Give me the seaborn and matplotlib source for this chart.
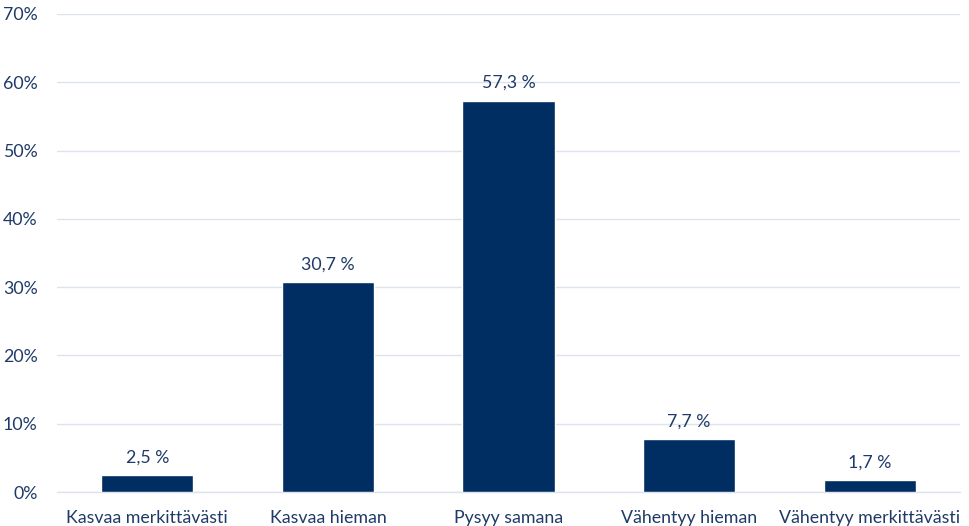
import matplotlib
matplotlib.use('Agg')
import matplotlib.pyplot as plt
import seaborn as sns
import pandas as pd
from matplotlib.ticker import FuncFormatter

# vastausvaihtoehdot ja osuudet (%)
categories = ['Kasvaa merkittävästi', 'Kasvaa hieman', 'Pysyy samana',
              'Vähentyy hieman', 'Vähentyy merkittävästi']
values = [2.5, 30.7, 57.3, 7.7, 1.7]
yticks = [0, 10, 20, 30, 40, 50, 60, 70]

bar_color = '#002D62'
text_color = '#1F3A68'
grid_color = '#DCE3EC'

sns.set_theme(style='white')
plt.rcParams['font.family'] = ['Lato', 'DejaVu Sans']

df = pd.DataFrame({'vaihtoehto': categories, 'osuus': values})

fig = plt.figure(figsize=(9.7, 5.26), dpi=100)
ax = fig.add_axes([0.0588, 0.0646, 0.9309, 0.9088])

sns.barplot(data=df, x='vaihtoehto', y='osuus', color=bar_color,
            saturation=1, width=0.51, ax=ax, zorder=3)

ax.set_ylim(0, 70)
ax.set_yticks(yticks)
ax.yaxis.set_major_formatter(FuncFormatter(lambda v, p: '{:.0f}%'.format(v)))
ax.grid(axis='y', color=grid_color, linewidth=1, zorder=0)
ax.set_axisbelow(True)
for s in ['top', 'right', 'left']:
    ax.spines[s].set_visible(False)
ax.spines['bottom'].set_color(grid_color)
ax.spines['bottom'].set_linewidth(1)

ax.set_xlabel('')
ax.set_ylabel('')
ax.tick_params(axis='both', length=0, labelsize=12.8, colors=text_color)
ax.tick_params(axis='x', pad=13)
ax.tick_params(axis='y', pad=14)

for i, v in enumerate(values):
    ax.annotate('{:.1f} %'.format(v).replace('.', ','), (i, v),
                xytext=(0, 7), textcoords='offset points',
                ha='center', va='bottom', fontsize=12.8, color=text_color)

fig.savefig('out.png', dpi=100)
